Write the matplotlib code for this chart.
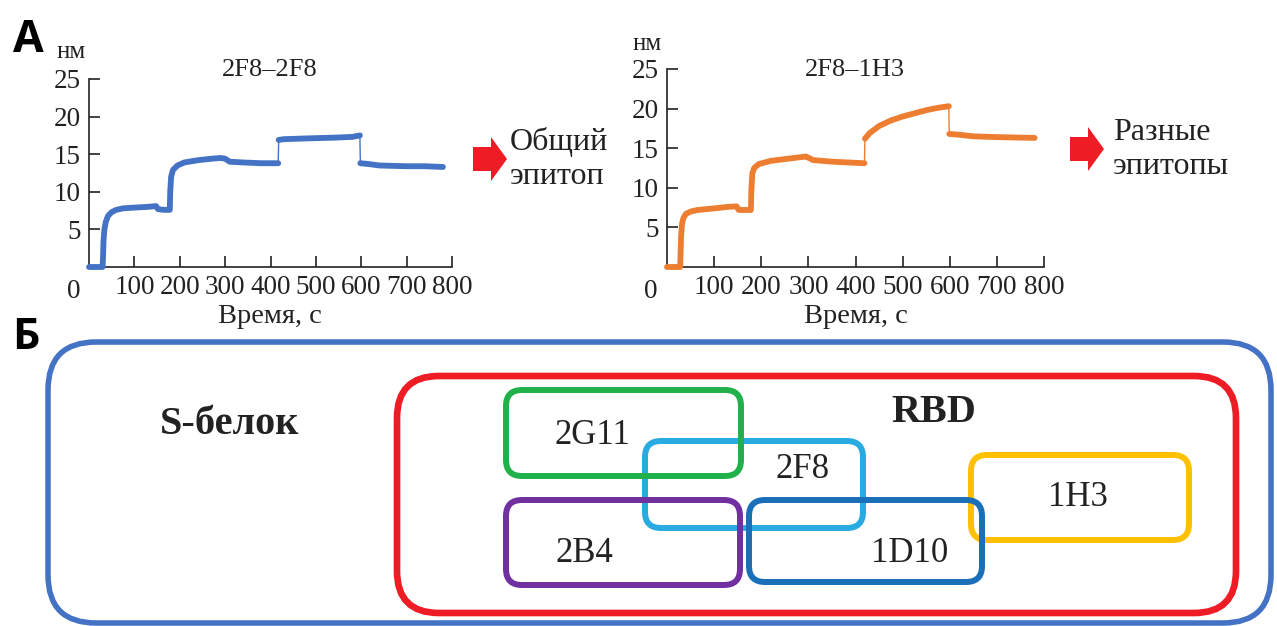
"""
Кинетика связывания антител (2F8-2F8, 2F8-1H3) и схема эпитопов RBD
"""
import numpy as np
import matplotlib.pyplot as plt
from matplotlib.patches import FancyBboxPatch, Polygon

plt.rcParams['font.family'] = ['Liberation Serif', 'DejaVu Serif']

# --- Данные сенсограмм: время, с и сигнал, нм ---
t_2f8_2f8 = [0, 30, 31, 32, 34, 37, 42, 50, 60, 75, 100, 130, 148, 152, 165, 178,
             179, 181, 185, 195, 210, 240, 270, 290, 300, 310, 340, 380, 417,
             418, 430, 480, 540, 580, 597, 598, 615, 640, 700, 740, 780]
y_2f8_2f8 = [0, 0, 1.5, 3.5, 5.0, 6.0, 6.8, 7.3, 7.6, 7.8, 7.9, 8.0, 8.1, 7.7, 7.6, 7.6,
             10.0, 12.0, 12.9, 13.5, 13.9, 14.2, 14.4, 14.5, 14.4, 14.0, 13.9, 13.8, 13.8,
             16.9, 17.0, 17.1, 17.2, 17.3, 17.5, 13.8, 13.7, 13.5, 13.4, 13.4, 13.3]

t_2f8_1h3 = [0, 28, 29, 30, 32, 35, 40, 50, 65, 100, 130, 148, 152, 178,
             179, 181, 185, 195, 220, 260, 295, 300, 310, 350, 419,
             420, 430, 450, 475, 500, 525, 550, 575, 598,
             599, 620, 650, 700, 780]
y_2f8_1h3 = [0, 0, 2.0, 4.0, 5.5, 6.2, 6.7, 7.0, 7.2, 7.4, 7.6, 7.65, 7.2, 7.2,
             9.6, 11.8, 12.5, 13.0, 13.4, 13.7, 13.95, 13.8, 13.5, 13.3, 13.1,
             16.2, 16.9, 17.8, 18.5, 19.0, 19.4, 19.8, 20.1, 20.3,
             16.8, 16.7, 16.5, 16.4, 16.3]

titles = ['2F8\u20132F8', '2F8\u20131H3']
y_unit = 'нм'
x_title = 'Время, с'
notes = [('Общий', 'эпитоп'), ('Разные', 'эпитопы')]

# --- Схема: белок, домен и эпитопы антител ---
protein = 'S-белок'
domain = 'RBD'
epitopes = ['2F8', '1H3', '2G11', '2B4', '1D10']

W, H = 1277, 626
fig = plt.figure(figsize=(W / 100, H / 100), dpi=100)


def px_box(x0, y0, x1, y1):
    # прямоугольник в пикселях (от верхнего левого угла) -> доли фигуры
    return [x0 / W, 1 - y1 / H, (x1 - x0) / W, (y1 - y0) / H]


def draw_curve(ax, t, y, color):
    t = np.asarray(t, float)
    y = np.asarray(y, float)
    ax.plot(t, y, color=color, lw=1.0, clip_on=False, zorder=3)
    # скачки между фазами рисуются тонкой линией
    jump = (np.diff(t) <= 1) & (np.abs(np.diff(y)) > 2.9)
    tt, yy = [t[0]], [y[0]]
    for i in range(1, len(t)):
        if jump[i - 1]:
            tt.append(np.nan)
            yy.append(np.nan)
        tt.append(t[i])
        yy.append(y[i])
    ax.plot(tt, yy, color=color, lw=4.2, solid_capstyle='round',
            solid_joinstyle='round', clip_on=False, zorder=3)


def setup(ax):
    ax.set_xlim(0, 800)
    ax.set_ylim(0, 25)
    ax.set_xticks(range(100, 801, 100))
    ax.set_yticks(range(5, 26, 5))
    for s in ['top', 'right']:
        ax.spines[s].set_visible(False)
    for s in ['left', 'bottom']:
        ax.spines[s].set_linewidth(1.2)
        ax.spines[s].set_color('#222222')
    ax.tick_params(direction='in', length=8, width=1.2, labelsize=19.5,
                   color='#222222', labelcolor='#222222')
    ax.tick_params(axis='x', pad=6)
    ax.tick_params(axis='y', pad=6)
    ax.patch.set_alpha(0)


ax1 = fig.add_axes(px_box(89, 79, 452, 267))
ax2 = fig.add_axes(px_box(667, 69, 1044, 267))
setup(ax1)
setup(ax2)
draw_curve(ax1, t_2f8_2f8, y_2f8_2f8, '#4472C4')
draw_curve(ax2, t_2f8_1h3, y_2f8_1h3, '#ED7D31')

# слой для подписей и схемы, координаты в пикселях
ov = fig.add_axes([0, 0, 1, 1])
ov.set_xlim(0, W)
ov.set_ylim(H, 0)
ov.axis('off')
ov.patch.set_visible(False)

txt = '#222222'
ov.text(270, 76, titles[0], fontsize=19, ha='center', va='baseline', color=txt)
ov.text(855, 76, titles[1], fontsize=19, ha='center', va='baseline', color=txt)
ov.text(71, 58, y_unit, fontsize=18, ha='center', va='baseline', color=txt)
ov.text(647, 50, y_unit, fontsize=18, ha='center', va='baseline', color=txt)
for xc in (74, 651):
    ov.text(xc, 298, '0', fontsize=19.5, ha='center', va='baseline', color=txt)
ov.text(270, 323, x_title, fontsize=20.5, ha='center', va='baseline', color=txt)
ov.text(856, 323, x_title, fontsize=20.5, ha='center', va='baseline', color=txt)

# красные стрелки и пояснения
arrow_red = '#EE1C25'
for x0, yc, (l1, l2), xt in [(473, 159, notes[0], 510), (1070, 149, notes[1], 1113)]:
    shape = [(x0, yc - 12), (x0 + 18, yc - 12), (x0 + 18, yc - 22), (x0 + 34, yc),
             (x0 + 18, yc + 22), (x0 + 18, yc + 12), (x0, yc + 12)]
    ov.add_patch(Polygon(shape, closed=True, color=arrow_red, lw=0))
    ov.text(xt, yc - 9, l1, fontsize=23, ha='left', va='baseline', color=txt)
    ov.text(xt, yc + 25, l2, fontsize=23, ha='left', va='baseline', color=txt)

# буквы панелей
ov.text(28, 52, 'А', fontsize=32, fontweight='bold', ha='center', va='baseline',
        family=['Open Sans', 'DejaVu Sans'], color='black')
ov.text(26, 349, 'Б', fontsize=31, fontweight='bold', ha='center', va='baseline',
        family=['Open Sans', 'DejaVu Sans'], color='black')


def rbox(x0, y0, x1, y1, color, lw, r, z):
    ov.add_patch(FancyBboxPatch((x0, y0), x1 - x0, y1 - y0,
                                boxstyle=f'round,pad=0,rounding_size={r}',
                                fill=False, ec=color, lw=lw, zorder=z))


rbox(48, 342, 1271, 623, '#4472C4', 4.0, 48, 1)
rbox(397, 376, 1236, 613, '#EE1C25', 4.8, 42, 2)

# эпитопы: рамка (x0, y0, x1, y1), цвет, положение подписи
layout = {
    '2F8': ((645, 441, 863, 528), '#29ABE2', (803, 470), 3),
    '1H3': ((971, 455, 1189, 540), '#FFC000', (1078, 497), 3),
    '2G11': ((506, 390, 741, 476), '#21B14B', (592, 436), 4),
    '2B4': ((506, 500, 740, 585), '#7030A0', (584, 554), 4),
    '1D10': ((749, 500, 982, 582), '#1A6FB9', (910, 554), 5),
}
for name in epitopes:
    (x0, y0, x1, y1), col, (tx, ty), z = layout[name]
    rbox(x0, y0, x1, y1, col, 4.3, 16, z)
    ov.text(tx, ty, name, fontsize=25, ha='center', va='center', color=txt, zorder=6)

ov.text(230, 425, protein, fontsize=29, fontweight='bold', ha='center', va='center', color=txt)
ov.text(934, 412, domain, fontsize=29, fontweight='bold', ha='center', va='center', color=txt)

fig.savefig('out.png', dpi=100)
